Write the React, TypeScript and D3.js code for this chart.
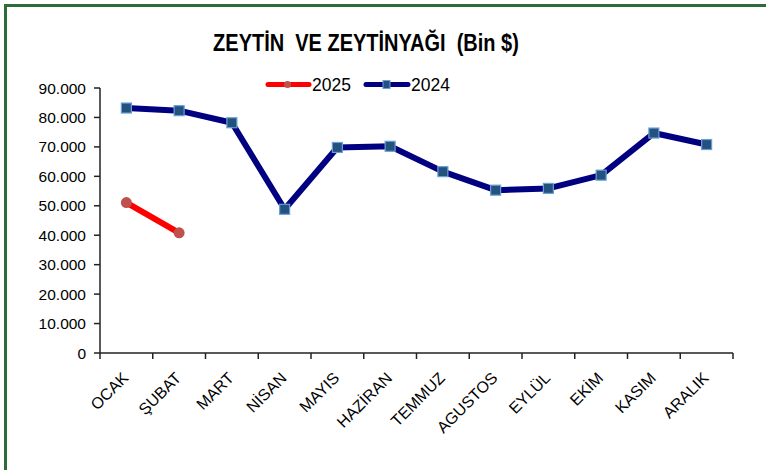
import React from "react";
import * as d3 from "d3";

const months = ["OCAK", "ŞUBAT", "MART", "NİSAN", "MAYIS", "HAZİRAN", "TEMMUZ", "AGUSTOS", "EYLÜL", "EKİM", "KASIM", "ARALIK"];
const values2024 = [83200, 82300, 78200, 48800, 69800, 70200, 61600, 55300, 55900, 60400, 74700, 70800];
const values2025 = [51100, 40800];
const yTicks = [0, 10000, 20000, 30000, 40000, 50000, 60000, 70000, 80000, 90000];
const title = "ZEYTİN  VE ZEYTİNYAĞI  (Bin $)";

const W = 766;
const H = 470;
const left = 100;
const right = 733;
const top = 88;
const bottom = 353;

const fmt = (v: number) => (v === 0 ? "0" : d3.format(",")(v).replace(/,/g, "."));

export default function App() {
  const x = d3.scaleBand<string>().domain(months).range([left, right]);
  const y = d3.scaleLinear().domain([0, 90000]).range([bottom, top]);
  const cx = (m: string) => (x(m) as number) + x.bandwidth() / 2;
  const line = d3
    .line<number>()
    .x((_, i) => cx(months[i]))
    .y((d) => y(d));
  const font = "'Liberation Sans', Arial, sans-serif";
  const boundaries = months.map((m) => x(m) as number).concat([right]);

  return (
    <svg
      width={W}
      height={H}
      style={{ position: "absolute", left: 0, top: 0 }}
      fontFamily={font}
    >
      <rect x={0} y={0} width={W} height={H} fill="#fff" />
      <path d={`M5.5,${H + 10} L5.5,5.5 L${W + 10},5.5`} fill="none" stroke="#2e6b3a" strokeWidth={3} />
      <text
        x={366}
        y={51}
        textAnchor="middle"
        fontSize={20}
        fontWeight="bold"
        fill="#000"
        style={{ whiteSpace: "pre" }}
        transform="translate(0,-8.5) scale(1,1.1667)"
      >
        {title}
      </text>
      {/* legend */}
      <g>
        <line x1={268} x2={309} y1={84.5} y2={84.5} stroke="#ff0000" strokeWidth={5} strokeLinecap="round" />
        <circle cx={287.5} cy={84.5} r={3.5} fill="#c0504d" />
        <text x={312} y={91} fontSize={17.5} fill="#000">2025</text>
        <line x1={366} x2={408} y1={84.5} y2={84.5} stroke="#000080" strokeWidth={5} strokeLinecap="round" />
        <rect x={383} y={80.5} width={7} height={8} fill="#24527f" stroke="#6a9fd4" strokeWidth={1} />
        <text x={411} y={91} fontSize={17.5} fill="#000">2024</text>
      </g>
      {/* y axis */}
      <line x1={left} x2={left} y1={y(90000)} y2={bottom} stroke="#222" strokeWidth={1.5} />
      {yTicks.map((t) => (
        <g key={t}>
          <line x1={left - 6} x2={left} y1={y(t)} y2={y(t)} stroke="#222" strokeWidth={1.5} />
          <text x={86} y={y(t) + 5.5} textAnchor="end" fontSize={15.5} fill="#000">
            {fmt(t)}
          </text>
        </g>
      ))}
      {/* x axis */}
      <line x1={left} x2={right} y1={bottom} y2={bottom} stroke="#222" strokeWidth={1.5} />
      {boundaries.map((b, i) => (
        <line key={i} x1={b} x2={b} y1={bottom} y2={bottom + 6} stroke="#222" strokeWidth={1.5} />
      ))}
      {months.map((m) => (
        <text
          key={m}
          transform={`translate(${cx(m) + 3},${bottom + 26}) rotate(-45)`}
          textAnchor="end"
          fontSize={16}
          fill="#000"
        >
          {m}
        </text>
      ))}
      {/* 2024 series */}
      <path d={line(values2024) || ""} fill="none" stroke="#000080" strokeWidth={6} strokeLinejoin="round" />
      {values2024.map((v, i) => (
        <rect
          key={i}
          x={cx(months[i]) - 5}
          y={y(v) - 5}
          width={10}
          height={10}
          fill="#24527f"
          stroke="#6a9fd4"
          strokeWidth={1.2}
        />
      ))}
      {/* 2025 series */}
      <path d={line(values2025) || ""} fill="none" stroke="#ff0000" strokeWidth={6} strokeLinejoin="round" />
      {values2025.map((v, i) => (
        <circle key={i} cx={cx(months[i])} cy={y(v)} r={5.5} fill="#c0504d" />
      ))}
    </svg>
  );
}
